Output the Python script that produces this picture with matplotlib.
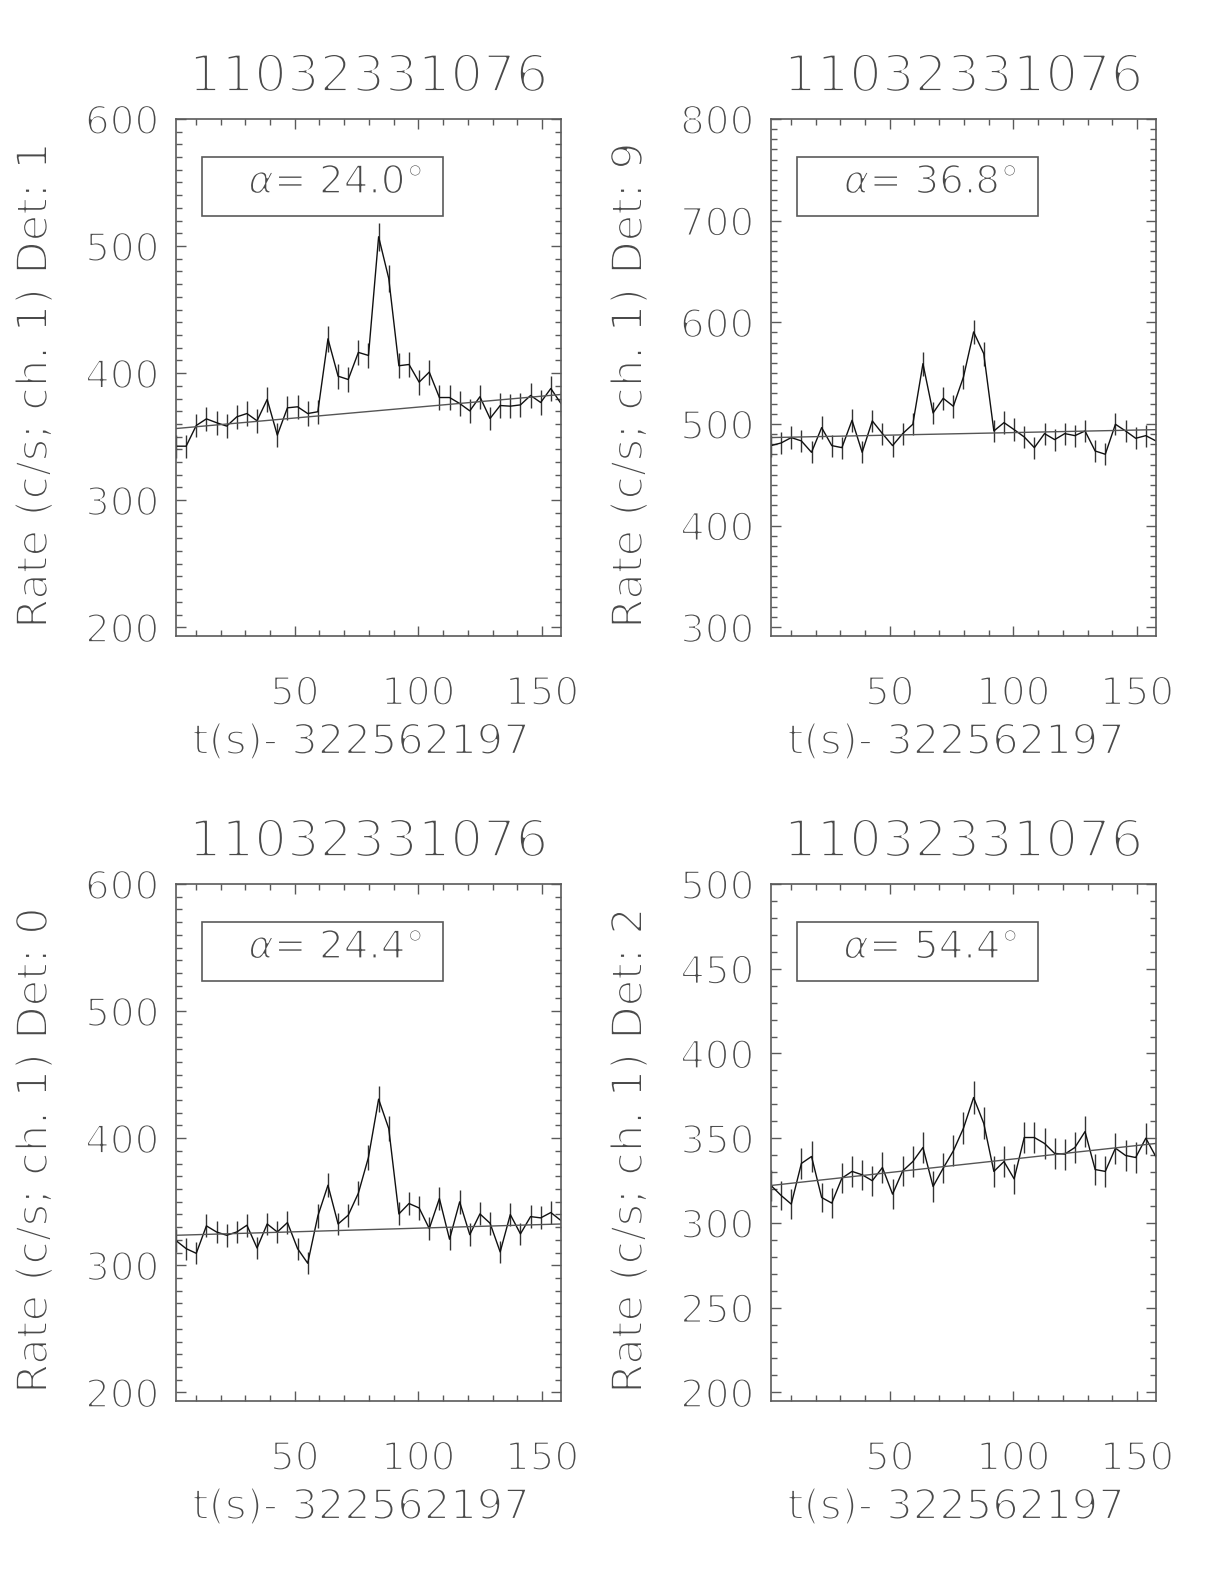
import numpy as np
import matplotlib
matplotlib.use('Agg')
import matplotlib.pyplot as plt
import matplotlib.patheffects as pe
from matplotlib.ticker import MultipleLocator
from matplotlib.patches import Rectangle

# datos de las curvas de luz (4 detectores)
t0 = 2.0
dt = 4.096
nbin = 39

titulo = '11032331076'
xlabel = 't(s)- 322562197'
detectores = [1, 9, 0, 2]
alfas = ['24.0', '36.8', '24.4', '54.4']

rate_d1 = [342.5, 342.5, 358.8, 364.0, 361.0, 358.3, 365.6, 368.2, 362.5, 379.3,
           351.2, 372.7, 373.5, 368.2, 369.6, 427.0, 397.6, 395.0, 416.3, 413.9,
           507.3, 474.5, 405.8, 406.8, 392.9, 400.8, 380.8, 380.8, 376.1, 370.3,
           381.4, 364.3, 374.5, 374.0, 375.0, 382.4, 376.9, 387.9, 376.1]
err_d1 = [9.2, 9.2, 9.4, 9.4, 9.4, 9.4, 9.5, 9.5, 9.4, 9.6,
          9.3, 9.5, 9.6, 9.5, 9.5, 10.2, 9.9, 9.8, 10.1, 10.1,
          11.1, 10.8, 10.0, 10.0, 9.8, 9.9, 9.6, 9.6, 9.6, 9.5,
          9.6, 9.4, 9.6, 9.6, 9.6, 9.7, 9.6, 9.7, 9.6]
bkg_d1 = [356.4, 383.2]

rate_d9 = [478.7, 481.3, 486.6, 483.3, 472.1, 496.4, 478.7, 476.7, 503.6, 472.1,
           503.0, 490.5, 478.7, 490.5, 499.7, 559.3, 510.8, 525.2, 517.4, 546.2,
           590.5, 569.2, 493.1, 501.3, 494.4, 487.2, 476.7, 490.5, 484.6, 490.5,
           488.5, 493.1, 473.4, 470.2, 499.7, 493.1, 485.9, 488.5, 483.3]
err_d9 = [10.8, 10.8, 10.9, 10.9, 10.7, 11.0, 10.8, 10.8, 11.1, 10.7,
          11.1, 10.9, 10.8, 10.9, 11.0, 11.7, 11.2, 11.3, 11.2, 11.5,
          12.0, 11.8, 11.0, 11.1, 11.0, 10.9, 10.8, 10.9, 10.9, 10.9,
          10.9, 11.0, 10.8, 10.7, 11.0, 11.0, 10.9, 10.9, 10.9]
bkg_d9 = [486.6, 494.4]

rate_d0 = [319.4, 313.1, 309.4, 331.0, 326.2, 323.6, 326.2, 331.5, 313.6, 332.5,
           326.2, 333.6, 313.1, 301.6, 338.8, 363.0, 332.5, 339.4, 356.7, 385.0,
           430.7, 407.6, 340.4, 348.6, 345.1, 328.9, 352.5, 320.5, 349.9, 324.1,
           340.4, 333.1, 310.5, 339.9, 324.7, 338.3, 337.3, 341.5, 335.2]
err_d0 = [8.8, 8.7, 8.7, 9.0, 8.9, 8.9, 8.9, 9.0, 8.8, 9.0,
          8.9, 9.0, 8.7, 8.6, 9.1, 9.4, 9.0, 9.1, 9.3, 9.7,
          10.3, 10.0, 9.1, 9.2, 9.2, 9.0, 9.3, 8.8, 9.2, 8.9,
          9.1, 9.0, 8.7, 9.1, 8.9, 9.1, 9.1, 9.1, 9.0]
bkg_d0 = [323.6, 332.5]

rate_d2 = [322.1, 316.2, 311.1, 335.1, 339.2, 315.0, 311.7, 326.4, 330.4, 328.4,
           324.9, 332.7, 317.0, 330.7, 336.2, 344.5, 321.5, 332.3, 342.5, 355.9,
           374.0, 358.8, 330.4, 336.2, 326.0, 350.4, 350.4, 346.9, 341.0, 340.6,
           344.5, 353.9, 331.5, 330.4, 344.1, 339.8, 338.6, 350.0, 339.0]
err_d2 = [8.9, 8.8, 8.7, 9.0, 9.1, 8.8, 8.7, 8.9, 9.0, 9.0,
          8.9, 9.0, 8.8, 9.0, 9.1, 9.2, 8.9, 9.0, 9.1, 9.3,
          9.6, 9.4, 9.0, 9.1, 8.9, 9.2, 9.2, 9.2, 9.1, 9.1,
          9.2, 9.3, 9.0, 9.0, 9.2, 9.1, 9.1, 9.2, 9.1]
bkg_d2 = [322.1, 346.9]

rangos_y = [(200, 600), (300, 800), (200, 600), (200, 500)]
paso_y = [(100, 10), (100, 10), (100, 10), (50, 10)]

tiempo = t0 + dt * np.arange(nbin)

gris = '#5a5a5a'
gris_txt = '#4a4a4a'
plt.rcParams['font.family'] = ['DejaVu Sans']
plt.rcParams['mathtext.fontset'] = 'dejavusans'

# trazo blanco encima para adelgazar las letras (parecido a la fuente vectorial de IDL)
fino = [pe.Stroke(linewidth=1.6, foreground='white')]
fino_t = [pe.Stroke(linewidth=2.2, foreground='white')]
fino_a = [pe.Stroke(linewidth=1.35, foreground='white')]

fig = plt.figure(figsize=(12.24, 15.84), dpi=100)

posiciones = [[0.1438, 0.5985, 0.3145, 0.3264],
              [0.6299, 0.5985, 0.3145, 0.3264],
              [0.1438, 0.1155, 0.3145, 0.3264],
              [0.6299, 0.1155, 0.3145, 0.3264]]

datos = [(rate_d1, err_d1, bkg_d1),
         (rate_d9, err_d9, bkg_d9),
         (rate_d0, err_d0, bkg_d0),
         (rate_d2, err_d2, bkg_d2)]

for i in range(4):
    ax = fig.add_axes(posiciones[i])
    rate, err, bkg = datos[i]
    ax.errorbar(tiempo, rate, yerr=err, fmt='none', ecolor='#333333', elinewidth=1.0, capsize=0)
    ax.plot(tiempo, rate, color='#111111', lw=1.0)
    ax.plot([tiempo[0], tiempo[-1]], bkg, color='#555555', lw=1.0)

    lo, hi = rangos_y[i]
    ax.set_xlim(tiempo[0], tiempo[-1])
    ax.set_ylim(lo - (hi - lo) * 0.0171, hi)

    ax.xaxis.set_major_locator(MultipleLocator(50))
    ax.xaxis.set_minor_locator(MultipleLocator(10))
    ax.yaxis.set_major_locator(MultipleLocator(paso_y[i][0]))
    ax.yaxis.set_minor_locator(MultipleLocator(paso_y[i][1]))
    ax.tick_params(which='both', direction='in', top=True, right=True, color=gris,
                   labelcolor=gris_txt, labelsize=28)
    ax.tick_params(which='major', length=7, width=1)
    ax.tick_params(which='minor', length=4, width=1)
    ax.tick_params(axis='x', pad=28)
    ax.tick_params(axis='y', pad=12)
    for lado in ax.spines.values():
        lado.set_color(gris)
        lado.set_linewidth(1.2)
    for lab in ax.get_xticklabels() + ax.get_yticklabels():
        lab.set_path_effects(fino)

    ax.text(0.5, 1.08, titulo, transform=ax.transAxes, ha='center', va='center',
            fontsize=37, color=gris_txt, path_effects=fino_t)
    ax.set_xlabel(xlabel, fontsize=30, color=gris_txt, va='center', path_effects=fino)
    ax.xaxis.set_label_coords(0.48, -0.205)
    ax.set_ylabel('Rate (c/s; ch. 1) Det: %d' % detectores[i], fontsize=31, color=gris_txt,
                  va='center', path_effects=fino)
    ax.yaxis.set_label_coords(-0.366, 0.483)

    caja = Rectangle((0.0667, 0.8124), 0.6268, 0.1146, transform=ax.transAxes,
                     fill=False, edgecolor=gris, lw=1.2)
    ax.add_patch(caja)
    ax.text(0.415, 0.877, r'$\alpha$= ' + alfas[i] + '°', transform=ax.transAxes,
            ha='center', va='center', fontsize=28, color=gris_txt, path_effects=fino_a)

plt.savefig('out.png', dpi=100)
